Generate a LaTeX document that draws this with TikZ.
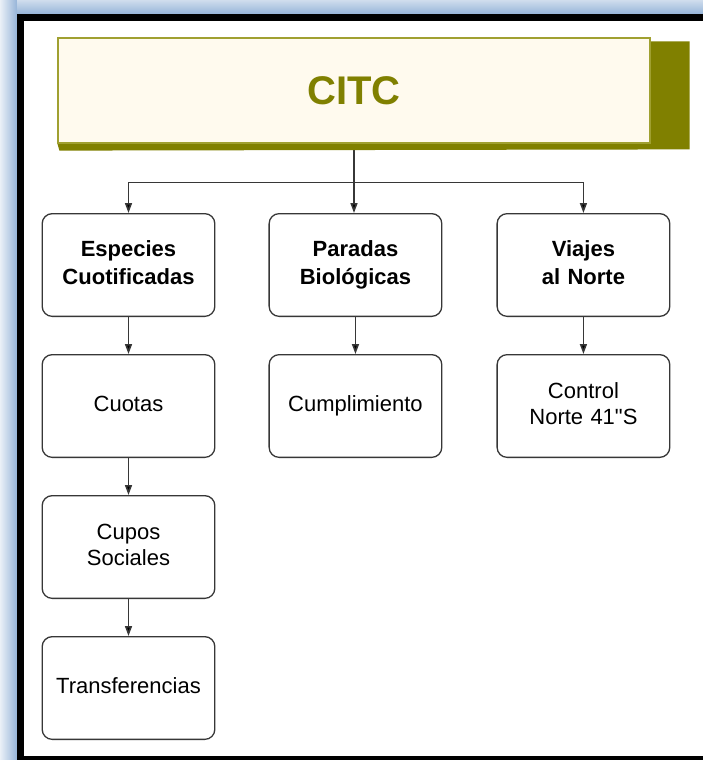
\documentclass[tikz,border=0pt]{standalone}
\usepackage{fontspec}
\setmainfont{Liberation Sans}
\usetikzlibrary{arrows.meta, positioning, calc, backgrounds}
\definecolor{framebg}{RGB}{150,180,216}
\definecolor{olivebox}{RGB}{128,128,0}
\definecolor{olivedraw}{RGB}{160,160,48}
\definecolor{creamfill}{RGB}{255,250,238}
\definecolor{linegray}{RGB}{55,55,55}

\begin{document}
\begin{tikzpicture}[
        x=1pt, y=1pt,
        node distance=37pt and 53pt,
        block/.style={rectangle, draw=linegray, line width=1.3pt, fill=white, minimum width=171.7pt, minimum height=102.7pt, text width=166pt, align=center, rounded corners=10pt, font=\fontsize{22}{26}\selectfont, execute at end node={\vphantom{g}}},
        head/.style={block, font=\fontsize{22}{28}\selectfont\bfseries},
        arr/.style={-{Triangle[length=10pt,width=7pt,fill=black]}, line width=1.6pt, draw=linegray}
    ]
        \useasboundingbox (0,0) rectangle (703,-760);

        \node[rectangle, draw=olivedraw, line width=1.2pt, fill=creamfill, minimum width=592pt, minimum height=105pt, text=olivebox, font=\fontsize{40}{46}\selectfont\bfseries] (citc) at (354,-90.5) {CITC};

        \node[head] (especies) at (128.5,-265) {Especies\\Cuotificadas};
        \node[head, right=of especies] (paradas) {Paradas\\Biológicas};
        \node[head, right=54pt of paradas] (viajes) {Viajes\\al Norte};
        \node[block, below=of especies] (cuotas) {Cuotas};
        \node[block, below=of cuotas] (cupos) {Cupos\\Sociales};
        \node[block, below=of cupos] (transf) {Transferencias};
        \node[block, below=of paradas] (cumpl) {Cumplimiento};
        \node[block, below=of viajes] (control) {Control\\Norte 41\textquotedbl S};

        \begin{scope}[on background layer]
            % marco
            \fill[framebg] (0,0) rectangle (703,-760);
            \shade[left color=framebg!20, right color=framebg] (0,0) rectangle (17,-760);
            \shade[top color=framebg!45, bottom color=framebg] (17,0) rectangle (703,-14);
            \fill[black] (17,-14) rectangle (703,-760);
            \fill[white] (24,-21) rectangle (703,-756);

            \draw[arr] (citc.south) -- ++(0,-39) -| (especies.north);
            \draw[arr] (citc.south) -- ++(0,-39) -| (viajes.north);
            \draw[arr] (citc.south) -- (citc.south |- paradas.north);
            \draw[arr] (especies) -- (cuotas);
            \draw[arr] (cuotas) -- (cupos);
            \draw[arr] (cupos) -- (transf);
            \draw[arr] (paradas) -- (cumpl);
            \draw[arr] (viajes) -- (control);

            % sombra
            \fill[olivebox] ($(citc.north east)+(0,-4)$) -- ++(39,0) -- ++(0,-108) -- ($(citc.south west)+(2,-7)$) -- (citc.south west) -- cycle;
        \end{scope}
    \end{tikzpicture}
\end{document}
